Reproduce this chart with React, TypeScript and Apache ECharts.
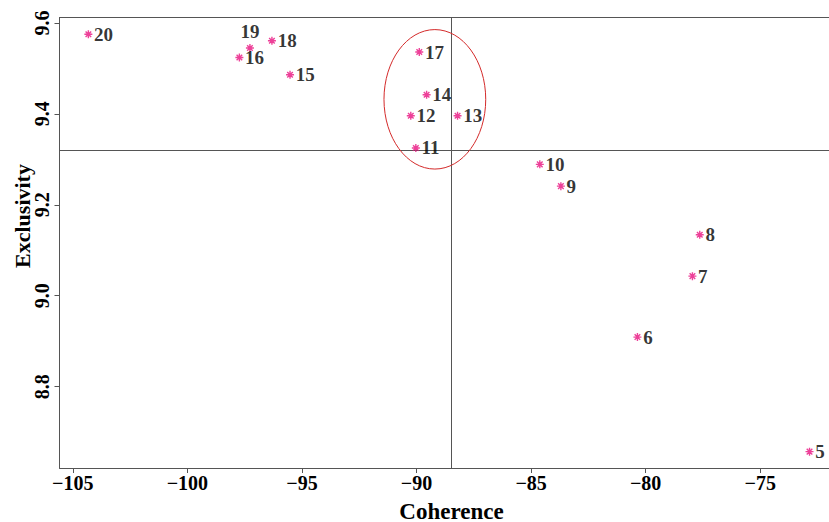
import React, { useEffect, useRef } from "react";
import * as echarts from "echarts";

// Topic numbers and their (coherence, exclusivity) scores
const topicLabels = ["5", "6", "7", "8", "9", "10", "11", "12", "13", "14", "15", "16", "17", "18", "19", "20"];
const coherence = [-72.85, -80.36, -77.96, -77.64, -83.7, -84.62, -90.03, -90.25, -88.21, -89.56, -95.52, -97.73, -89.88, -96.31, -97.27, -104.32];
const exclusivity = [8.657, 8.909, 9.043, 9.134, 9.241, 9.289, 9.325, 9.396, 9.396, 9.442, 9.486, 9.524, 9.536, 9.561, 9.545, 9.575];

// Axis ticks
const xTicks = [-105, -100, -95, -90, -85, -80, -75];
const yTicks = [8.8, 9.0, 9.2, 9.4, 9.6];

// Reference lines and highlighted ellipse (data units)
const refCoherence = -88.5;
const refExclusivity = 9.321;
const ellipseCenter = [-89.2, 9.432];
const ellipseRadius = [2.22, 0.1534];

const FONT = '"Liberation Serif", "Times New Roman", serif';
const AXIS_COLOR = "#555";
const STAR = "path://M5,0L5,10M0,5L10,5M1.5,1.5L8.5,8.5M1.5,8.5L8.5,1.5";

export default function App() {
  const ref = useRef<HTMLDivElement>(null);

  useEffect(() => {
    if (!ref.current) return;
    const chart = echarts.init(ref.current, null, { renderer: "svg" });
    const data = topicLabels.map((n, i) => ({
      name: n,
      value: [coherence[i], exclusivity[i]],
      label: n === "19" ? { position: "top", distance: 2 } : undefined,
    }));
    chart.setOption({
      animation: false,
      backgroundColor: "#fff",
      grid: { left: 59.5, right: 0, top: 17.5, bottom: 54 },
      xAxis: [
        {
          type: "value",
          min: -105.58,
          max: -72.0,
          axisLine: { show: true, lineStyle: { color: AXIS_COLOR, width: 1 } },
          axisTick: { show: true, length: 5, customValues: xTicks, lineStyle: { color: AXIS_COLOR } },
          axisLabel: {
            customValues: xTicks,
            margin: 5,
            color: "#000",
            fontFamily: FONT,
            fontWeight: "bold",
            fontSize: 20,
            formatter: (v: number) => (v < 0 ? "\u2212" + Math.abs(v) : String(v)),
          },
          splitLine: { show: false },
        },
        {
          type: "value",
          position: "top",
          min: -105.58,
          max: -72.0,
          axisLine: { show: true, lineStyle: { color: AXIS_COLOR, width: 1 } },
          axisTick: { show: false },
          axisLabel: { show: false },
          splitLine: { show: false },
        },
      ],
      yAxis: {
        type: "value",
        min: 8.621,
        max: 9.612,
        axisLine: { show: true, lineStyle: { color: AXIS_COLOR, width: 1 } },
        axisTick: { show: true, length: 5, customValues: yTicks, lineStyle: { color: AXIS_COLOR } },
        axisLabel: {
          customValues: yTicks,
          rotate: 90,
          margin: 8,
          color: "#000",
          fontFamily: FONT,
          fontWeight: "bold",
          fontSize: 20,
          formatter: (v: number) => v.toFixed(1),
        },
        splitLine: { show: false },
      },
      series: [
        {
          type: "scatter",
          xAxisIndex: 0,
          yAxisIndex: 0,
          symbol: STAR,
          symbolSize: 8,
          itemStyle: { color: "rgba(0,0,0,0)", borderColor: "#e8127f", borderWidth: 1.4 },
          label: {
            show: true,
            position: "right",
            distance: 1,
            formatter: "{b}",
            color: "#000",
            fontFamily: FONT,
            fontWeight: "bold",
            fontSize: 19,
          },
          data,
          markLine: {
            silent: true,
            symbol: ["none", "none"],
            label: { show: false },
            lineStyle: { color: AXIS_COLOR, width: 1, type: "solid" },
            data: [{ xAxis: refCoherence }, { yAxis: refExclusivity }],
          },
          z: 5,
        },
      ],
    });

    const c = chart.convertToPixel({ xAxisIndex: 0, yAxisIndex: 0 }, ellipseCenter) as number[];
    const e = chart.convertToPixel({ xAxisIndex: 0, yAxisIndex: 0 }, [
      ellipseCenter[0] + ellipseRadius[0],
      ellipseCenter[1] + ellipseRadius[1],
    ]) as number[];

    chart.setOption({
      graphic: [
        {
          type: "ellipse",
          shape: { cx: c[0], cy: c[1], rx: Math.abs(e[0] - c[0]), ry: Math.abs(c[1] - e[1]) },
          style: { fill: "none", stroke: "#d42a2a", lineWidth: 1 },
          z: 10,
        },
        {
          type: "text",
          x: 451.5,
          y: 511,
          style: {
            text: "Coherence",
            fontFamily: FONT,
            fontWeight: "bold",
            fontSize: 23,
            fill: "#000",
            align: "center",
            verticalAlign: "middle",
          },
        },
        {
          type: "text",
          x: 22,
          y: 216,
          rotation: Math.PI / 2,
          style: {
            text: "Exclusivity",
            fontFamily: FONT,
            fontWeight: "bold",
            fontSize: 22,
            fill: "#000",
            align: "center",
            verticalAlign: "middle",
          },
        },
      ],
    });

    return () => chart.dispose();
  }, []);

  return (
    <div
      ref={ref}
      style={{ position: "absolute", left: 0, top: 0, width: 829, height: 522 }}
    />
  );
}
